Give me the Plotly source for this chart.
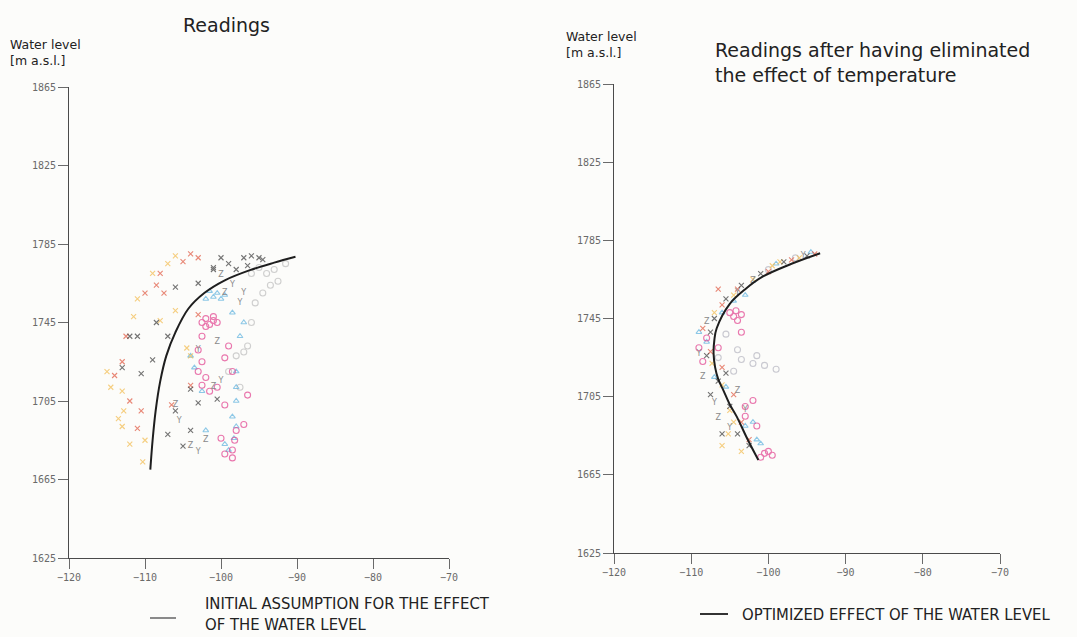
import plotly.graph_objects as go

W, H = 1077, 637

# ---------------- data: left panel (Readings) ----------------
L_curve_x = [-109.3, -109.0, -108.6, -108.0, -107.2, -106.0, -104.3, -102.2, -99.5, -96.1, -93.0, -90.2]
L_curve_y = [1670, 1685, 1700, 1715, 1728, 1740, 1752, 1760, 1766.5, 1771.8, 1775.5, 1778.5]

L_black_x = [-100, -97, -96, -95, -94.5, -99, -101, -103, -106, -108.5, -112, -111, -107, -113, -110.5, -109, -104, -106, -103, -107, -104, -105, -100.5, -101, -98, -96.5]
L_black_y = [1778, 1778, 1779, 1778, 1777, 1775, 1773, 1765, 1763, 1745, 1738, 1738, 1738, 1722, 1719, 1726, 1711, 1700, 1704, 1688, 1690, 1682, 1706, 1772, 1772, 1774]

L_red_x = [-103, -105, -108, -110, -107.5, -112.5, -113, -114, -112, -110.5, -111, -106.5, -104, -103, -104, -108.5]
L_red_y = [1778, 1776, 1770, 1760, 1760, 1738, 1725, 1718, 1705, 1700, 1691, 1703, 1713, 1749, 1780, 1764]

L_yellow_x = [-106, -107, -109, -111, -111.5, -115, -114.5, -113.5, -113, -112, -110, -104, -104.5, -106, -108, -113, -110.3, -112.8]
L_yellow_y = [1779, 1775, 1770, 1757, 1748, 1720, 1712, 1696, 1692, 1683, 1685, 1728, 1732, 1751, 1746, 1710, 1674, 1700]

L_magenta_x = [-102, -101, -101.5, -102.5, -100.5, -101, -102, -102.5, -103, -102.5, -103, -102.5, -101.5, -99.5, -99, -98.5, -100.5, -99.5, -97, -100, -99.5, -98.5, -98.2, -98, -98.5, -102, -96.5]
L_magenta_y = [1747, 1746, 1744, 1745, 1745, 1748, 1743, 1738, 1731, 1725, 1720, 1713, 1710, 1727, 1733, 1720, 1712, 1703, 1693, 1686, 1678, 1676, 1685, 1690, 1680, 1717, 1708]

L_blue_x = [-101, -100.5, -102, -100, -101.5, -99.5, -98.5, -97.5, -98, -98, -98, -98.5, -98, -98.3, -99.5, -99, -103.5, -102.5, -104, -102, -97]
L_blue_y = [1758, 1760, 1757, 1757, 1761, 1759, 1750, 1738, 1720, 1712, 1705, 1697, 1692, 1686, 1683, 1680, 1722, 1710, 1728, 1690, 1745]

L_gray_x = [-95, -93, -93.5, -94.5, -92.5, -95.5, -96, -96.5, -97, -98, -99, -97.5, -94, -91.5, -96]
L_gray_y = [1773, 1772, 1764, 1760, 1766, 1755, 1745, 1733, 1730, 1728, 1720, 1712, 1770, 1775, 1770]

L_letter_x = [-98.5, -99.5, -97.5, -100.5, -103, -101, -100, -106, -105.5, -104, -103, -102, -97, -100]
L_letter_y = [1764, 1760, 1755, 1735, 1731, 1712, 1715, 1703, 1695, 1682, 1679, 1685, 1760, 1769]

# ---------------- data: right panel (after temperature correction) ----------------
R_curve_x = [-101.3, -102.8, -104.1, -105.0, -105.8, -106.5, -106.9, -107.1, -107.0, -106.7, -105.0, -103.0, -100.7, -97.0, -93.3]
R_curve_y = [1672.6, 1684, 1694.8, 1701, 1708, 1714, 1720, 1727, 1734, 1740, 1752.5, 1760, 1766.5, 1773, 1778.4]

R_black_x = [-95, -98, -101, -103.5, -105.5, -107, -107.5, -108, -106.5, -107.5, -105, -106, -104, -102.5, -105.5]
R_black_y = [1777, 1774, 1768, 1762, 1755, 1745, 1738, 1726, 1713, 1706, 1700, 1686, 1686, 1680, 1717]

R_red_x = [-94, -97, -100, -104, -106, -108.5, -107.5, -106, -104.5, -103.5, -102.5, -106.5]
R_red_y = [1778, 1775, 1769, 1760, 1752, 1740, 1728, 1720, 1706, 1692, 1683, 1760]

R_yellow_x = [-96, -98.5, -99.5, -102, -104.5, -107, -106, -105, -104.5, -106, -103.5, -105.2, -107.3]
R_yellow_y = [1776, 1774, 1772, 1765, 1757, 1748, 1711, 1698, 1692, 1680, 1677, 1686, 1722]

R_magenta_x = [-104.5, -104, -105, -103.5, -104.2, -109, -108.5, -108, -106.5, -103, -102, -103, -101.5, -100.5, -101, -100, -99.5, -103.5]
R_magenta_y = [1746, 1744, 1748, 1747, 1749, 1730, 1723, 1735, 1730, 1700, 1703, 1695, 1690, 1676, 1674, 1677, 1675, 1738]

R_blue_x = [-94.5, -99, -103, -104.5, -106, -109, -108, -107, -105.5, -103, -101.5, -102, -101]
R_blue_y = [1779, 1773, 1757, 1754, 1748, 1738, 1733, 1715, 1710, 1690, 1683, 1692, 1681]

R_gray_x = [-96.5, -100, -105.5, -104, -103.5, -102, -100.5, -104.5, -106.5, -101.5, -99]
R_gray_y = [1776, 1770, 1737, 1729, 1724, 1722, 1721, 1718, 1725, 1726, 1719]

R_letter_x = [-95.5, -102, -104, -108, -109, -108.5, -107, -104, -103, -106.5, -105]
R_letter_y = [1777, 1764, 1758, 1743, 1727, 1715, 1702, 1708, 1698, 1694, 1689]

x_ticks = [-120, -110, -100, -90, -80, -70]
y_ticks = [1625, 1665, 1705, 1745, 1785, 1825, 1865]

titles = ["Readings", "Readings after having eliminated<br>the effect of temperature"]
y_label = "Water level<br>[m a.s.l.]"
legend_texts = ["INITIAL ASSUMPTION FOR THE EFFECT<br>OF THE WATER LEVEL", "OPTIMIZED EFFECT OF THE WATER LEVEL"]

# ---------------- figure ----------------
fig = go.Figure()

def add_panel(xa, ya, curve_x, curve_y, curve_color, groups, letters):
    for gx, gy, sym, col, size in groups:
        fig.add_trace(go.Scatter(x=gx, y=gy, mode="markers", xaxis=xa, yaxis=ya,
                                 marker=dict(symbol=sym, color=col, size=size,
                                             line=dict(width=1.1, color=col)),
                                 opacity=0.7, showlegend=False, hoverinfo="skip"))
    lx, ly = letters
    fig.add_trace(go.Scatter(x=lx, y=ly, mode="text", xaxis=xa, yaxis=ya,
                             text=["Z" if i % 2 else "Y" for i in range(len(lx))],
                             textfont=dict(size=8, color="#8a8a8a", family="DejaVu Sans"),
                             showlegend=False, hoverinfo="skip"))
    fig.add_trace(go.Scatter(x=curve_x, y=curve_y, mode="lines", xaxis=xa, yaxis=ya,
                             line=dict(color=curve_color, width=2, shape="spline"),
                             showlegend=False, hoverinfo="skip"))

add_panel("x", "y", L_curve_x, L_curve_y, "#1e1e1e", [
    (L_gray_x, L_gray_y, "circle-open", "#bdbdbd", 6),
    (L_blue_x, L_blue_y, "triangle-up-open", "#5fb3df", 5),
    (L_magenta_x, L_magenta_y, "circle-open", "#e2408e", 6),
    (L_yellow_x, L_yellow_y, "x-thin-open", "#f3bb4c", 5),
    (L_red_x, L_red_y, "x-thin-open", "#e0573f", 5),
    (L_black_x, L_black_y, "x-thin-open", "#3a3a3a", 5),
], (L_letter_x, L_letter_y))

add_panel("x2", "y2", R_curve_x, R_curve_y, "#1e1e1e", [
    (R_gray_x, R_gray_y, "circle-open", "#b5b5c0", 6),
    (R_blue_x, R_blue_y, "triangle-up-open", "#5fb3df", 5),
    (R_magenta_x, R_magenta_y, "circle-open", "#e2408e", 6),
    (R_yellow_x, R_yellow_y, "x-thin-open", "#f3bb4c", 5),
    (R_red_x, R_red_y, "x-thin-open", "#e0573f", 5),
    (R_black_x, R_black_y, "x-thin-open", "#3a3a3a", 5),
], (R_letter_x, R_letter_y))

tickfont = dict(family="DejaVu Sans Mono, Liberation Mono, monospace", size=10, color="#6a6a6a")
axis_common = dict(showgrid=False, zeroline=False, showline=True, linecolor="#4a4a4a", linewidth=1,
                   ticks="outside", ticklen=10, tickwidth=1, tickcolor="#6a6a6a", tickfont=tickfont,
                   automargin=False)

fig.update_layout(
    width=W, height=H,
    margin=dict(l=0, r=0, t=0, b=0),
    paper_bgcolor="#fcfcfa", plot_bgcolor="#fcfcfa",
    xaxis=dict(domain=[69 / W, 449 / W], range=[-120, -70], tickvals=x_ticks, anchor="y", **axis_common),
    yaxis=dict(domain=[(H - 558) / H, (H - 87) / H], range=[1625, 1865], tickvals=y_ticks, anchor="x", **axis_common),
    xaxis2=dict(domain=[614 / W, 1000 / W], range=[-120, -70], tickvals=x_ticks, anchor="y2", **axis_common),
    yaxis2=dict(domain=[(H - 553) / H, (H - 84) / H], range=[1625, 1865], tickvals=y_ticks, anchor="x2", **axis_common),
)

title_font = dict(family="DejaVu Sans, sans-serif", size=19, color="#222")
label_font = dict(family="DejaVu Sans, sans-serif", size=12.5, color="#222")
legend_font = dict(family="DejaVu Sans Condensed, Liberation Sans Narrow, sans-serif", size=16.5, color="#222")

ann = [
    dict(text=titles[0], x=226 / W, y=1 - 12 / H, xanchor="center", yanchor="top", font=title_font),
    dict(text=titles[1], x=713 / W, y=1 - 37 / H, xanchor="left", yanchor="top", align="left", font=title_font),
    dict(text=y_label, x=8 / W, y=1 - 35 / H, xanchor="left", yanchor="top", align="left", font=label_font),
    dict(text=y_label, x=564 / W, y=1 - 27 / H, xanchor="left", yanchor="top", align="left", font=label_font),
    dict(text=legend_texts[0], x=203 / W, y=1 - 592 / H, xanchor="left", yanchor="top", align="left", font=legend_font),
    dict(text=legend_texts[1], x=740 / W, y=1 - 614 / H, xanchor="left", yanchor="middle", align="left", font=legend_font),
]
for a in ann:
    fig.add_annotation(xref="paper", yref="paper", showarrow=False, **a)

fig.add_shape(type="line", xref="paper", yref="paper", x0=150 / W, x1=176 / W,
              y0=1 - 618 / H, y1=1 - 618 / H, line=dict(color="#8a8a8a", width=2))
fig.add_shape(type="line", xref="paper", yref="paper", x0=700 / W, x1=728 / W,
              y0=1 - 614 / H, y1=1 - 614 / H, line=dict(color="#333", width=2))

fig.write_html("out.html",
               post_script="document.body.style.margin='0';document.body.style.overflow='hidden';")
